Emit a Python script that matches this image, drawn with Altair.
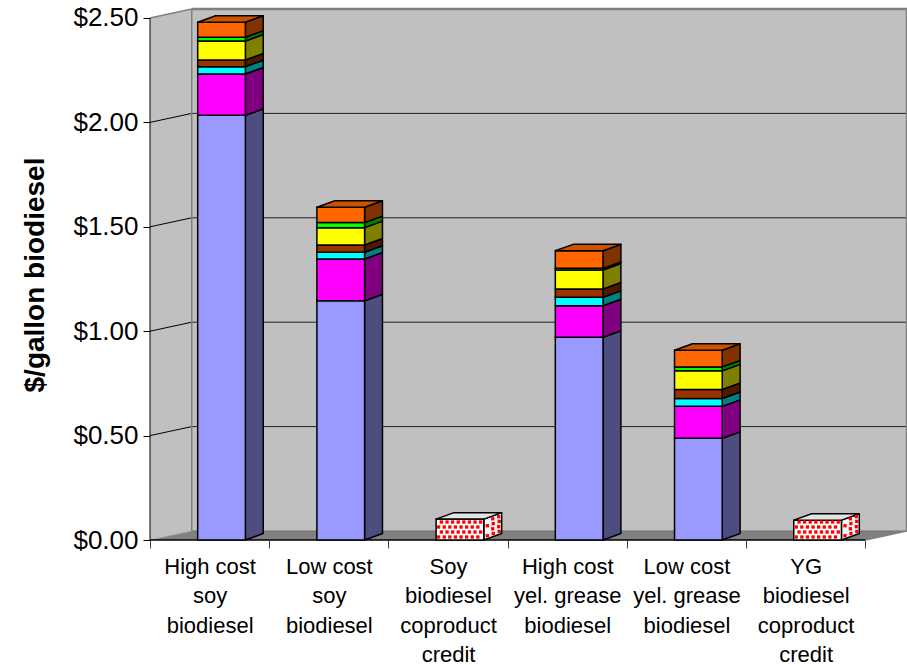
import json
import numpy as np
import pandas as pd
import altair as alt

# ---- data -------------------------------------------------------------
category_lines = [
    ["High cost", "soy", "biodiesel"],
    ["Low cost", "soy", "biodiesel"],
    ["Soy", "biodiesel", "coproduct", "credit"],
    ["High cost", "yel. grease", "biodiesel"],
    ["Low cost", "yel. grease", "biodiesel"],
    ["YG", "biodiesel", "coproduct", "credit"],
]

# stacked cost components, bottom to top ($/gallon)
part1 = [2.034, 1.146, 0.0, 0.971, 0.487, 0.0]
part2 = [0.198, 0.200, 0.0, 0.151, 0.153, 0.0]
part3 = [0.035, 0.032, 0.0, 0.040, 0.038, 0.0]
part4 = [0.032, 0.035, 0.0, 0.040, 0.043, 0.0]
part5 = [0.091, 0.083, 0.0, 0.091, 0.089, 0.0]
part6 = [0.018, 0.024, 0.0, 0.008, 0.019, 0.0]
part7 = [0.072, 0.074, 0.0, 0.084, 0.080, 0.0]
coproduct_credit = [0.0, 0.0, 0.10, 0.0, 0.0, 0.095]

front_colors = ["#9999FF", "#FF00FF", "#00FFFF", "#993300", "#FFFF00", "#00FF00", "#FF6600"]
side_colors = ["#4D4D80", "#800080", "#008080", "#4D1A00", "#808000", "#008000", "#803300"]
top_colors = ["#7A7ACC", "#CC00CC", "#00CCCC", "#7A2900", "#CCCC00", "#00CC00", "#CC5200"]

y_ticks = [0.0, 0.5, 1.0, 1.5, 2.0, 2.5]

# ---- 3-D geometry (x in category units, y in $) -------------------------
N = len(category_lines)
WALL_DX, WALL_DY = 0.35, 0.0431      # depth of the chart box
BAR_DX, BAR_DY = 0.15, 0.031         # depth of each column
BAR_L, BAR_R = 0.40, 0.80            # column front face inside its category
X_MAX = N + WALL_DX
Y_MAX = y_ticks[-1] + WALL_DY
PLOT_W, PLOT_H = 757, 531

xs = alt.Scale(domain=[0, X_MAX], nice=False, zero=False)
ys = alt.Scale(domain=[0, Y_MAX], nice=False, zero=False)

parts = [part1, part2, part3, part4, part5, part6, part7]

fronts, sides, tops = [], [], []
for i in range(N):
    base = 0.0
    x0, x1 = i + BAR_L, i + BAR_R
    seg_list = [(parts[k][i], front_colors[k], side_colors[k], top_colors[k]) for k in range(len(parts))]
    if coproduct_credit[i] > 0:
        seg_list = [(coproduct_credit[i], "#FFFFFF", "#F6F6F6", "#E4E4E4")]
    seg_list = [s for s in seg_list if s[0] > 0]
    for j, (v, fc, sc, tc) in enumerate(seg_list):
        y0, y1 = base, base + v
        fid = f"{i}-{j}"
        fronts.append(dict(x=x0, x2=x1, y=y0, y2=y1, fill=fc))
        sides.append(dict(id=fid, x=x1, y=y0, y2=y1, fill=sc))
        sides.append(dict(id=fid, x=x1 + BAR_DX, y=y0 + BAR_DY, y2=y1 + BAR_DY, fill=sc))
        if j == len(seg_list) - 1:
            tops.append(dict(id=fid, y=y1, x=x0, x2=x1, fill=tc))
            tops.append(dict(id=fid, y=y1 + BAR_DY, x=x0 + BAR_DX, x2=x1 + BAR_DX, fill=tc))
        base = y1

front_df = pd.DataFrame(fronts)
side_df = pd.DataFrame(sides)
top_df = pd.DataFrame(tops)

# red dot texture on the coproduct credit boxes
dots = []
sx = 5.6 * X_MAX / PLOT_W
sy = 5.0 * Y_MAX / PLOT_H
for i in range(N):
    h = coproduct_credit[i]
    if h <= 0:
        continue
    x0, x1 = i + BAR_L, i + BAR_R
    for r, yy in enumerate(np.arange(sy * 0.6, h - sy * 0.3, sy)):
        for xx in np.arange(x0 + sx * (0.45 + 0.5 * (r % 2)), x1 - sx * 0.3, sx):
            dots.append(dict(x=xx, y=yy))
        for u in np.arange(0.2 + 0.3 * (r % 2), 0.95, 0.33):
            dots.append(dict(x=x1 + u * BAR_DX, y=yy + u * BAR_DY))
dot_df = pd.DataFrame(dots)

# ---- chart box: walls, floor, grid ---------------------------------------
top = y_ticks[-1]
left_wall = pd.DataFrame(dict(x=[0, WALL_DX], y=[0, WALL_DY], y2=[top, top + WALL_DY]))
back_wall = pd.DataFrame(dict(x=[WALL_DX], x2=[X_MAX], y=[WALL_DY], y2=[top + WALL_DY]))
floor = pd.DataFrame(dict(y=[0, WALL_DY], x=[0, WALL_DX], x2=[N, N + WALL_DX]))

grid_inner = [t for t in y_ticks if 0 < t < top]
slant_rows = []
for t in grid_inner:
    slant_rows += [dict(g=t, x=0, y=t), dict(g=t, x=WALL_DX, y=t + WALL_DY)]
slant_df = pd.DataFrame(slant_rows)
back_grid = pd.DataFrame(dict(y=[t + WALL_DY for t in grid_inner], x=WALL_DX, x2=X_MAX))

edge_rows = [
    # (id, x, y, colour, width)
    ("lt", 0, top, "#808080", 1.5), ("lt", WALL_DX, top + WALL_DY, "#808080", 1.5),
    ("bt", WALL_DX, top + WALL_DY, "#808080", 2.5), ("bt", X_MAX, top + WALL_DY, "#808080", 2.5),
    ("bl", WALL_DX, WALL_DY, "#808080", 1.5), ("bl", WALL_DX, top + WALL_DY, "#808080", 1.5),
    ("br", X_MAX, WALL_DY, "#808080", 2.5), ("br", X_MAX, top + WALL_DY, "#808080", 2.5),
    ("bb", WALL_DX, WALL_DY, "#707070", 1), ("bb", X_MAX, WALL_DY, "#707070", 1),
    ("lb", 0, 0, "#A0A0A0", 1), ("lb", WALL_DX, WALL_DY, "#A0A0A0", 1),
    ("fr", N, 0, "#808080", 1.5), ("fr", X_MAX, WALL_DY, "#808080", 1.5),
    ("fl", 0, 0, "#000000", 1), ("fl", 0, top, "#000000", 1),
    ("ff", 0, 0, "#000000", 1.5), ("ff", N, 0, "#000000", 1.5),
]
edge_df = pd.DataFrame(edge_rows, columns=["id", "x", "y", "c", "w"])

FONT = "Liberation Sans"
label_expr = f"{json.dumps(category_lines)}[datum.value] || ''"

x_axis = alt.Axis(values=list(range(N + 1)), tickSize=8, tickColor="#404040", tickWidth=1,
                  domain=False, grid=False, title=None, labelExpr=label_expr,
                  labelOffset=PLOT_W / X_MAX / 2, labelFont=FONT, labelFontSize=22,
                  labelColor="black", labelLineHeight=29.5, labelPadding=8,
                  labelBaseline="top", labelAlign="center",
                  labelOverlap=False, labelBound=False, labelFlush=False)
y_axis = alt.Axis(values=y_ticks, format="$.2f", tickSize=7, tickColor="black", tickWidth=1,
                  domain=False, grid=False, labelFont=FONT, labelFontSize=26, labelColor="black",
                  labelPadding=5, title="$/gallon biodiesel", titleFont=FONT, titleFontSize=28,
                  titleFontWeight="bold", titleColor="black", titlePadding=23)


def X(field):
    return alt.X(field, scale=xs, axis=x_axis)


def Y(field):
    return alt.Y(field, scale=ys, axis=y_axis)


lw = alt.Chart(left_wall).mark_area(fill="#C0C0C0").encode(
    x=X("x:Q"), y=Y("y:Q"), y2="y2:Q",
)
bw = alt.Chart(back_wall).mark_rect(fill="#C0C0C0").encode(
    x=X("x:Q"), x2="x2:Q", y=Y("y:Q"), y2="y2:Q",
)
fl = alt.Chart(floor).mark_area(fill="#808080", orient="horizontal").encode(
    y=Y("y:Q"), x=X("x:Q"), x2="x2:Q",
)
gs = alt.Chart(slant_df).mark_line(color="#000000", strokeWidth=1).encode(
    x=X("x:Q"), y=Y("y:Q"), detail="g:N",
)
gb = alt.Chart(back_grid).mark_rule(color="#202020", strokeWidth=1).encode(
    x=X("x:Q"), x2="x2:Q", y=Y("y:Q"),
)
edges = alt.Chart(edge_df).mark_line().encode(
    x=X("x:Q"), y=Y("y:Q"),
    detail="id:N",
    color=alt.Color("c:N", scale=None),
    strokeWidth=alt.StrokeWidth("w:Q", scale=None),
)

side = alt.Chart(side_df).mark_area(stroke="black", strokeWidth=1.5, strokeJoin="round").encode(
    x=X("x:Q"), y=Y("y:Q"), y2="y2:Q",
    detail="id:N", fill=alt.Fill("fill:N", scale=None),
)
front = alt.Chart(front_df).mark_rect(stroke="black", strokeWidth=1.5).encode(
    x=X("x:Q"), x2="x2:Q", y=Y("y:Q"), y2="y2:Q",
    fill=alt.Fill("fill:N", scale=None),
)
topf = alt.Chart(top_df).mark_area(orient="horizontal", stroke="black", strokeWidth=1.5,
                                   strokeJoin="round").encode(
    y=Y("y:Q"), x=X("x:Q"), x2="x2:Q",
    detail="id:N", fill=alt.Fill("fill:N", scale=None),
)
dotm = alt.Chart(dot_df).mark_square(size=11, color="#FF0000", opacity=1).encode(
    x=X("x:Q"), y=Y("y:Q"),
)

chart = alt.layer(lw, bw, fl, gs, gb, edges, side, front, topf, dotm).properties(
    width=PLOT_W, height=PLOT_H,
    autosize=alt.AutoSizeParams(type="none"),
    padding={"left": 150, "top": 9, "right": 0, "bottom": 125},
    background="white",
).configure_view(stroke=None)

chart.save("out.html", embed_options={"renderer": "svg", "actions": False})
